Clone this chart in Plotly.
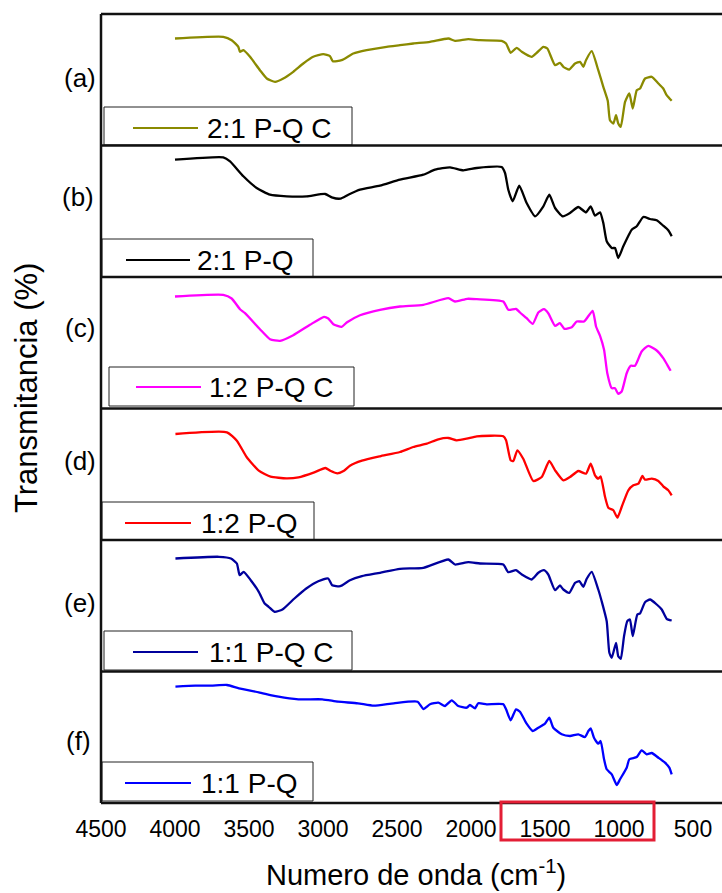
import plotly.graph_objects as go
from plotly.subplots import make_subplots

# ---------------- data (wavenumber cm-1, transmittance arbitrary units) ----------------
labels = ["2:1 P-Q C", "2:1 P-Q", "1:2 P-Q C", "1:2 P-Q", "1:1 P-Q C", "1:1 P-Q"]
panel_tags = ["(a)", "(b)", "(c)", "(d)", "(e)", "(f)"]
colors = ["#8a8a00", "#000000", "#ff00ff", "#ff0000", "#00009c", "#0000ff"]

wn_a = [4000, 3674, 3617, 3572, 3561, 3538, 3493, 3426, 3380, 3324, 3268, 3201, 3133, 3066, 2998, 2953, 2934, 2874, 2795, 2705,
        2570, 2480, 2390, 2277, 2153, 2108, 2018, 1939, 1793, 1763, 1732, 1691, 1657, 1590, 1556, 1511, 1484, 1432, 1399, 1376,
        1336, 1297, 1263, 1241, 1223, 1184, 1140, 1106, 1076, 1061, 1038, 1020, 1005, 988, 959, 930, 907, 880, 858, 824,
        779, 734, 701, 678, 644]
t_a = [107, 108.7, 105.3, 98.7, 93.7, 95.3, 88.7, 75.3, 67, 63.7, 67, 73.7, 82, 88.7, 91.3, 89.3, 84.3, 85.3, 92, 95.3,
       98.7, 100.3, 102, 103.7, 107, 104.7, 106.3, 105.3, 104.7, 102, 92.7, 97.7, 93.7, 88.7, 92.7, 98.7, 97, 80.3, 82.7, 78.7,
       76, 82, 83.7, 78.7, 85.3, 94.3, 75.3, 58.7, 44.7, 25.3, 22, 30.3, 22, 18.7, 43.7, 52, 37, 55.3, 57, 67,
       68.7, 62, 57, 50.3, 44.7]

wn_b = [4000, 3674, 3628, 3538, 3448, 3358, 3245, 3110, 2986, 2941, 2885, 2829, 2750, 2615, 2480, 2322, 2243, 2142, 2052, 1961,
        1793, 1770, 1748, 1718, 1674, 1624, 1567, 1511, 1471, 1432, 1380, 1331, 1275, 1223, 1191, 1162, 1128, 1106, 1083, 1049,
        1027, 1005, 971, 914, 880, 836, 790, 745, 701, 667, 644]
t_b = [117.3, 119.7, 115.7, 100.7, 89, 82.3, 80.7, 80.7, 83, 79.7, 78.3, 82.3, 87.3, 91.3, 97.3, 102.3, 107.3, 109.7, 106.7, 109,
       110, 104, 87.3, 75.7, 91.3, 74, 60.7, 70.7, 82.3, 69, 60.7, 64, 70, 64.7, 70.7, 61.3, 64.7, 54, 35.7, 29,
       29, 19, 30.7, 47.3, 50.7, 60, 58, 56.7, 51.3, 46.7, 40.7]

wn_c = [4000, 3674, 3617, 3561, 3527, 3426, 3358, 3290, 3201, 3088, 2993, 2964, 2930, 2874, 2840, 2750, 2615, 2480, 2322, 2153,
        2108, 2025, 1961, 1782, 1748, 1696, 1669, 1624, 1583, 1545, 1507, 1478, 1432, 1399, 1369, 1319, 1286, 1236, 1178, 1155,
        1128, 1101, 1079, 1049, 1027, 1005, 982, 948, 921, 892, 847, 802, 745, 701, 674, 651]
t_c = [112, 113.7, 110, 99.3, 95.3, 79.3, 69.3, 67.7, 73.3, 83.7, 91.7, 90, 84.3, 81.7, 86, 93.3, 98.7, 102, 103.7, 110.3,
       107, 109.7, 109.3, 107, 98.7, 99.7, 96, 90.3, 84.7, 96, 99.3, 95.3, 82.7, 85.3, 79.7, 81.3, 87, 87, 97.7, 82,
       72.7, 58.7, 35.3, 20.3, 20.3, 14.7, 17, 35.3, 42.7, 42.7, 57, 62.7, 58, 50.3, 43.7, 37.7]

wn_d = [3997, 3649, 3582, 3515, 3434, 3354, 3247, 3166, 3059, 2984, 2951, 2903, 2858, 2818, 2737, 2615, 2480, 2390, 2299, 2221,
        2153, 2097, 2029, 1961, 1782, 1763, 1732, 1714, 1687, 1647, 1579, 1522, 1471, 1432, 1376, 1331, 1275, 1223, 1191, 1162,
        1140, 1124, 1094, 1072, 1038, 1011, 982, 937, 903, 869, 842, 824, 779, 734, 701, 667, 644]
t_d = [106, 107.7, 99.3, 82.7, 69.3, 63.3, 61.7, 62.7, 67.7, 72, 69.3, 66.7, 69.3, 74.3, 79.3, 83.7, 88, 93, 96.3, 100.7,
       102, 99.7, 101.3, 103.7, 103.7, 99.7, 79.7, 79, 89.7, 81.3, 59, 63, 79, 69.7, 59.7, 63, 69, 66.3, 76.3, 64.7,
       61.3, 63.7, 43, 32.3, 29.7, 22.3, 33, 49.7, 54.7, 56.3, 64, 60.3, 61.3, 59, 53.7, 49.7, 44.7]

wn_e = [3997, 3703, 3622, 3582, 3563, 3536, 3488, 3434, 3394, 3367, 3327, 3274, 3193, 3113, 3032, 2965, 2938, 2884, 2818, 2737,
        2615, 2480, 2322, 2153, 2108, 2018, 1939, 1782, 1748, 1696, 1657, 1590, 1545, 1507, 1478, 1432, 1399, 1376, 1336, 1297,
        1268, 1241, 1218, 1184, 1140, 1117, 1083, 1065, 1049, 1020, 1005, 988, 966, 944, 926, 907, 876, 858, 824, 790,
        745, 711, 678, 644]
t_e = [113, 114.7, 113, 108, 96.3, 99.7, 91.3, 79.7, 68, 64.7, 59.7, 62, 73, 83, 90.3, 93, 86.3, 85.3, 91.3, 95.3,
       98.7, 102.7, 103.7, 112, 107, 109.3, 108, 107, 99.3, 101.3, 97, 92, 98.7, 101.3, 97, 81.3, 86, 82, 78.7, 88.7,
       90.3, 84.7, 92.7, 99.7, 82, 70.3, 50.3, 18.7, 13.7, 28.7, 15.3, 12.7, 35.3, 50.3, 52, 35.3, 57, 58, 69.3, 72,
       67, 62, 52.7, 51]

wn_f = [3997, 3863, 3756, 3649, 3568, 3434, 3300, 3166, 3005, 2898, 2764, 2657, 2522, 2361, 2322, 2277, 2221, 2176, 2130, 2086,
        2029, 2007, 1973, 1951, 1894, 1782, 1763, 1732, 1696, 1669, 1624, 1583, 1545, 1500, 1471, 1444, 1387, 1331, 1275, 1230,
        1207, 1191, 1169, 1140, 1124, 1101, 1083, 1049, 1015, 993, 948, 930, 880, 847, 813, 779, 734, 689, 660, 644]
t_f = [116.3, 117.3, 117.3, 118, 114.7, 110.7, 106.3, 103.7, 103.7, 101.3, 99.7, 97.3, 99.7, 101.3, 94, 98.7, 100.3, 97, 102.7, 97,
       95.3, 98, 94.7, 99.7, 98.7, 98.7, 93.7, 82.7, 93.7, 91.3, 79.3, 72, 75.3, 79.3, 85.3, 75.3, 68.7, 67, 68.7, 66,
       72, 74.7, 65.3, 59.3, 62, 43.7, 33.7, 28.7, 18, 23.7, 35.3, 43.7, 46, 52.7, 48.7, 50, 45.3, 40.3, 35.3, 28.7]

x_ticks = [4500, 4000, 3500, 3000, 2500, 2000, 1500, 1000, 500]

series = [(wn_a, t_a), (wn_b, t_b), (wn_c, t_c), (wn_d, t_d), (wn_e, t_e), (wn_f, t_f)]

# ---------------- layout helpers ----------------
W, H = 722, 893
L, R, T, B = 101, 0, 14, 90
PW, PH = W - L - R, H - T - B
FONT = "Liberation Sans, Arial, sans-serif"


def fx(px):
    return (px - L) / PW


def fy(py):
    return (H - B - py) / PH


fig = make_subplots(rows=6, cols=1, shared_xaxes=True, vertical_spacing=0)

for i, ((x, y), c, name) in enumerate(zip(series, colors, labels)):
    fig.add_trace(go.Scatter(x=x, y=y, mode="lines", name=name,
                             line=dict(color=c, width=2.3, shape="spline", smoothing=0.5),
                             showlegend=False), row=i + 1, col=1)
    fig.update_yaxes(range=[0, 131.5], showticklabels=False, showgrid=False, zeroline=False,
                     showline=False, ticks="", row=i + 1, col=1)
    fig.update_xaxes(range=[4500, 304], showgrid=False, zeroline=False, showline=False,
                     ticks="", row=i + 1, col=1)

fig.update_xaxes(tickvals=x_ticks, ticktext=[str(v) for v in x_ticks], showticklabels=True,
                 ticklabelstandoff=10,
                 tickfont=dict(family=FONT, size=23, color="black"), row=6, col=1)

shapes = []
annotations = []

# legend boxes: (box x0, x1, y0, y1, line x0, x1, line y, text x)
leg_geo = [
    (104, 352, 107, 145, 133, 198, 128, 205),
    (102, 313, 239, 277, 126, 190, 260, 195),
    (109, 354, 367, 406, 136, 201, 387, 207),
    (102, 314, 502, 540, 125, 191, 523, 199),
    (104, 352, 631, 670, 133, 198, 652, 207),
    (102, 313, 762, 801, 125, 191, 783, 199),
]
for (bx0, bx1, by0, by1, lx0, lx1, ly, tx), c, name in zip(leg_geo, colors, labels):
    shapes.append(dict(type="rect", xref="paper", yref="paper", x0=fx(bx0), x1=fx(bx1), y0=fy(by1), y1=fy(by0),
                       line=dict(color="#222222", width=1), fillcolor="white", layer="above"))
    shapes.append(dict(type="line", xref="paper", yref="paper", x0=fx(lx0), x1=fx(lx1), y0=fy(ly), y1=fy(ly),
                       line=dict(color=c, width=2)))
    annotations.append(dict(xref="paper", yref="paper", x=fx(tx), y=fy(ly), text=name, showarrow=False,
                            xanchor="left", yanchor="middle", font=dict(family=FONT, size=28, color="black")))

# panel frame lines
for k in range(7):
    yv = k / 6
    shapes.append(dict(type="line", xref="paper", yref="paper", x0=0, x1=1, y0=yv, y1=yv,
                       line=dict(color="#111111", width=2.5)))
shapes.append(dict(type="line", xref="paper", yref="paper", x0=0, x1=0, y0=0, y1=1,
                   line=dict(color="#111111", width=2.5)))

# red highlight box around 1500-1000 tick labels
shapes.append(dict(type="rect", xref="paper", yref="paper", x0=fx(501), x1=fx(654), y0=fy(840), y1=fy(802),
                   line=dict(color="#e31e35", width=3), fillcolor="rgba(0,0,0,0)"))

# panel tags
tag_pos = [(80, 78), (78, 197), (80, 328), (80, 461), (80, 603), (78, 741)]
for (tx, ty), tag in zip(tag_pos, panel_tags):
    annotations.append(dict(xref="paper", yref="paper", x=fx(tx), y=fy(ty), text=tag, showarrow=False,
                            xanchor="center", yanchor="middle", font=dict(family=FONT, size=26, color="black")))

# axis titles
annotations.append(dict(xref="paper", yref="paper", x=fx(416), y=fy(873), text="Numero de onda (cm<sup>-1</sup>)",
                        showarrow=False, xanchor="center", yanchor="middle",
                        font=dict(family=FONT, size=29, color="black")))
annotations.append(dict(xref="paper", yref="paper", x=fx(26), y=fy(388), text="Transmitancia (%)",
                        showarrow=False, xanchor="center", yanchor="middle", textangle=-90,
                        font=dict(family=FONT, size=31, color="black")))

fig.update_layout(width=W, height=H, margin=dict(l=L, r=R, t=T, b=B), plot_bgcolor="white",
                  paper_bgcolor="white", shapes=shapes, annotations=annotations, showlegend=False)

fig.write_html("out.html", config={"displayModeBar": False},
               post_script="document.body.style.margin='0px';document.body.style.overflow='hidden';")
